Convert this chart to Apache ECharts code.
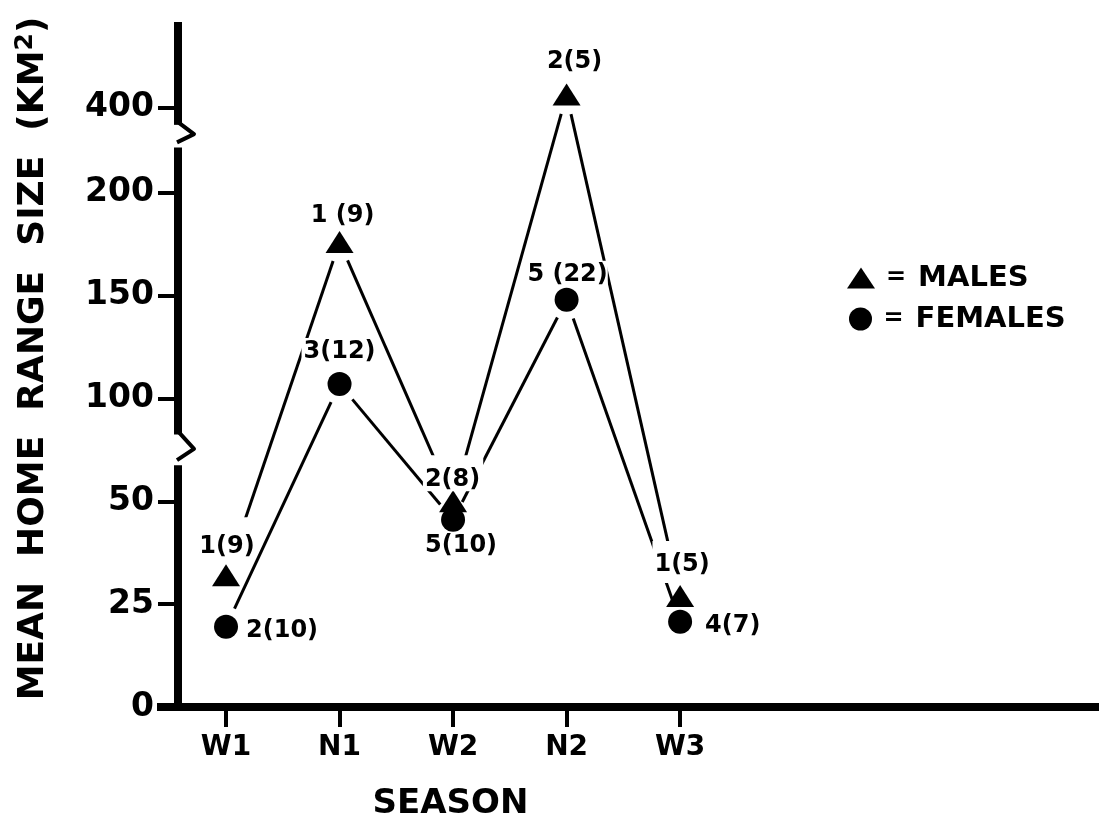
<!DOCTYPE html>
<html><head><meta charset="utf-8">
<script src="https://cdn.jsdelivr.net/npm/echarts@6/dist/echarts.min.js"></script>
<style>html,body{margin:0;padding:0;background:#fff}#c{width:1099px;height:828px}</style>
</head><body><div id="c"></div>
<script>
// ---- data ----
const seasons = ['W1', 'N1', 'W2', 'N2', 'W3'];
const males = [32, 176, 50, 430, 27];
const females = [19.5, 107, 45.5, 148, 20.7];
const maleN = ['1(9)', '1 (9)', '2(8)', '2(5)', '1(5)'];
const femaleN = ['2(10)', '3(12)', '5(10)', '5 (22)', '4(7)'];
const yTickValues = [0, 25, 50, 100, 150, 200, 400];
const yTickLabels = ['0', '25', '50', '100', '150', '200', '400'];

// ---- broken (piecewise linear) y scale: [v0, v1, t0, t1] ----
const SEG = [[0, 50, 0, 2], [50, 200, 2, 5], [200, 400, 5, 5.83]];
function toT(v) {
  for (let i = 0; i < SEG.length; i++) {
    const s = SEG[i];
    if (v <= s[1] || i === SEG.length - 1) return s[2] + (v - s[0]) / (s[1] - s[0]) * (s[3] - s[2]);
  }
}
const yTickT = yTickValues.map(toT);
const X_MIN = -0.423, X_MAX = 7.69, Y_MAX = 6.66;
const FONT = 'DejaVu Sans';

// axis pieces: [from, to, zigzagTip, zigzagEnd] (null = no zigzag)
const axisPieces = [[-0.04, 2.35, null, null], [5.44, 2.65, 2.51, 2.40], [6.66, 5.66, 5.57, 5.49]];

function axisRender(params, api) {
  const children = [];
  const x0 = api.coord([X_MIN, 0])[0];
  axisPieces.forEach(p => {
    const ya = api.coord([X_MIN, p[0]])[1], yb = api.coord([X_MIN, p[1]])[1];
    children.push({type: 'line', shape: {x1: x0, y1: ya, x2: x0, y2: yb}, style: {stroke: '#000', lineWidth: 8}});
    if (p[2] !== null) {
      const yc = api.coord([X_MIN, p[2]])[1], yd = api.coord([X_MIN, p[3]])[1];
      children.push({type: 'polyline', shape: {points: [[x0 + 1, yb - 2], [x0 + 16, yc], [x0 - 1, yd]]},
        style: {stroke: '#000', lineWidth: 4, fill: null, lineJoin: 'round'}});
    }
  });
  const y0 = api.coord([X_MIN, 0])[1];
  children.push({type: 'line', shape: {x1: x0 - 21, y1: y0, x2: x0, y2: y0}, style: {stroke: '#000', lineWidth: 8}});
  return {type: 'group', children};
}

function segRender(params, api) {
  const a = api.coord([api.value(0), api.value(1)]);
  const b = api.coord([api.value(2), api.value(3)]);
  const dx = b[0] - a[0], dy = b[1] - a[1], L = Math.hypot(dx, dy);
  const g = 20, ux = dx / L, uy = dy / L;
  return {type: 'line', shape: {x1: a[0] + ux * g, y1: a[1] + uy * g, x2: b[0] - ux * g, y2: b[1] - uy * g},
    style: {stroke: '#000', lineWidth: 3}};
}

function segments(arr) {
  const out = [];
  for (let i = 0; i < arr.length - 1; i++) out.push([i, toT(arr[i]), i + 1, toT(arr[i + 1])]);
  return out;
}

// label placement styles per point
const maleLabelStyle = [
  {position: 'top', distance: 4, padding: [17, 0, 2, 2]},
  {position: 'top', distance: 1, offset: [3, 0], padding: [2, 2, 2, 2]},
  {position: 'top', distance: -1, padding: [12, 3, 0, 2]},
  {position: 'top', distance: 8, offset: [8, 0], padding: [2, 2, 2, 2]},
  {position: 'top', distance: 2, offset: [2, 0], padding: [12, 2, 6, 2]}
];
const femaleLabelStyle = [
  {position: 'right', distance: 8, offset: [0, 4], padding: [0, 0, 0, 0]},
  {position: 'top', distance: 6, padding: [2, 2, 2, 2]},
  {position: 'bottom', distance: 2, offset: [8, 0], padding: [0, 2, 0, 2]},
  {position: 'top', distance: 1, padding: [2, 0, 0, 2]},
  {position: 'right', distance: 13, offset: [0, 4], padding: [0, 0, 0, 0]}
];

const labelBase = {show: true, color: '#000', fontFamily: FONT, fontWeight: 'bold', fontSize: 24, backgroundColor: '#fff'};

function pointData(arr, names, styles) {
  return arr.map((v, i) => ({value: [i, toT(v)], label: Object.assign({}, styles[i], {formatter: names[i]})}));
}

const legendText = {
  color: '#000', fontFamily: FONT, fontWeight: 'bold', lineHeight: 30,
  rich: {
    e: {fontSize: 24, fontFamily: FONT, fontWeight: 'bold', padding: [0, 12, 0, 6], lineHeight: 30},
    n: {fontSize: 29, fontFamily: FONT, fontWeight: 'bold', lineHeight: 30}
  }
};

const option = {
  animation: false,
  backgroundColor: '#fff',
  grid: {left: 178, right: 0, top: 22, bottom: 121, containLabel: false, outerBoundsMode: 'none'},
  legend: [
    {data: [{name: 'MALES', icon: 'triangle'}], left: 847, top: 263, padding: 0, itemWidth: 28, itemHeight: 21,
      symbolKeepAspect: false, selectedMode: false, formatter: n => '{e|=}{n|' + n + '}', textStyle: legendText},
    {data: [{name: 'FEMALES', icon: 'circle'}], left: 849, top: 304, padding: 0, itemWidth: 24, itemHeight: 23,
      symbolKeepAspect: false, selectedMode: false, formatter: n => '{e|=}{n|' + n + '}', textStyle: legendText}
  ],
  xAxis: {
    type: 'value', min: X_MIN, max: X_MAX,
    name: 'SEASON', nameLocation: 'middle', nameGap: 80,
    nameTextStyle: {color: '#000', fontFamily: FONT, fontWeight: 'bold', fontSize: 34, padding: [0, 376, 0, 0]},
    axisLine: {show: true, onZero: false, lineStyle: {color: '#000', width: 8}},
    axisTick: {show: true, customValues: [0, 1, 2, 3, 4], length: 20, lineStyle: {color: '#000', width: 4}},
    axisLabel: {customValues: [0, 1, 2, 3, 4], formatter: v => seasons[Math.round(v)], color: '#000',
      fontFamily: FONT, fontWeight: 'bold', fontSize: 28, margin: 27},
    splitLine: {show: false}
  },
  yAxis: {
    type: 'value', min: 0, max: Y_MAX,
    name: '{a|MEAN  HOME  RANGE  SIZE  (KM}{s|2}{a|)}', nameLocation: 'middle', nameGap: 123, nameRotate: 90,
    nameTextStyle: {color: '#000', padding: [0, 0, 0, 12],
      rich: {
        a: {fontFamily: FONT, fontWeight: 'bold', fontSize: 36, color: '#000', lineHeight: 42},
        s: {fontFamily: FONT, fontWeight: 'bold', fontSize: 25, color: '#000', verticalAlign: 'top', lineHeight: 42}
      }},
    axisLine: {show: false, onZero: false},
    axisTick: {show: true, customValues: yTickT, length: 20, lineStyle: {color: '#000', width: 4}},
    axisLabel: {customValues: yTickT, color: '#000', fontFamily: FONT, fontWeight: 'bold', fontSize: 33, margin: 24,
      formatter: v => {
        let best = 0;
        yTickT.forEach((t, i) => { if (Math.abs(t - v) < Math.abs(yTickT[best] - v)) best = i; });
        return yTickLabels[best];
      }},
    splitLine: {show: false}
  },
  series: [
    {type: 'custom', name: 'axis', renderItem: axisRender, data: [[0, 0]], clip: false, z: 5, silent: true,
      encode: {x: 0, y: 1}},
    {type: 'custom', name: 'maleLine', renderItem: segRender, data: segments(males), z: 1, silent: true,
      dimensions: ['x1', 'y1', 'x2', 'y2'], encode: {x: [0, 2], y: [1, 3]}},
    {type: 'custom', name: 'femaleLine', renderItem: segRender, data: segments(females), z: 1, silent: true,
      dimensions: ['x1', 'y1', 'x2', 'y2'], encode: {x: [0, 2], y: [1, 3]}},
    {type: 'scatter', name: 'MALES', symbol: 'triangle', symbolSize: [28, 22], z: 3,
      itemStyle: {color: '#000', opacity: 1}, label: labelBase, data: pointData(males, maleN, maleLabelStyle)},
    {type: 'scatter', name: 'FEMALES', symbol: 'circle', symbolSize: 24, z: 3,
      itemStyle: {color: '#000', opacity: 1}, label: labelBase, data: pointData(females, femaleN, femaleLabelStyle)}
  ]
};

const chart = echarts.init(document.getElementById('c'), null, {renderer: 'canvas'});
chart.setOption(option);
</script>
</body></html>
